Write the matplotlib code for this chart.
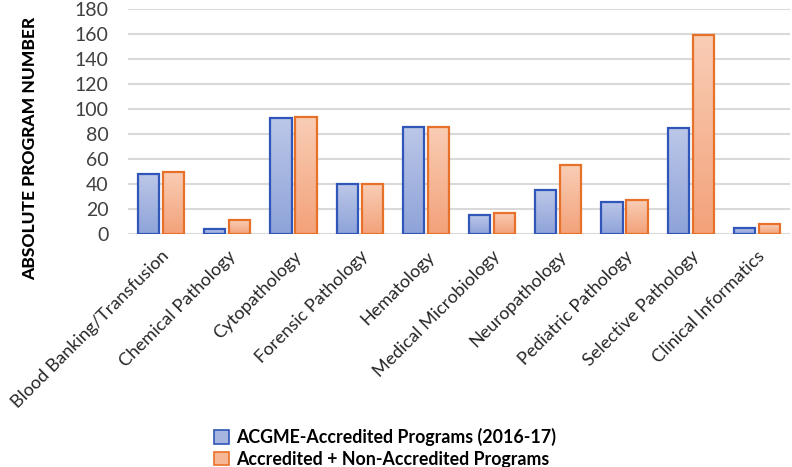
import numpy as np
import matplotlib
matplotlib.use("Agg")
import matplotlib.pyplot as plt
from matplotlib.colors import LinearSegmentedColormap
from matplotlib.patches import Patch

plt.rcParams['font.family'] = ['Lato', 'DejaVu Sans']

categories = ["Blood Banking/Transfusion", "Chemical Pathology", "Cytopathology",
              "Forensic Pathology", "Hematology", "Medical Microbiology",
              "Neuropathology", "Pediatric Pathology", "Selective Pathology",
              "Clinical Informatics"]
acgme = [48, 4, 93, 40, 86, 15, 35, 26, 85, 5]
all_programs = [50, 11, 94, 40, 86, 17, 55, 27, 159, 8]
series_names = ["ACGME-Accredited Programs (2016-17)",
                "Accredited + Non-Accredited Programs"]

# gradient colours: top (light) -> bottom (darker)
blue_top, blue_bot, blue_edge = "#bcc7e8", "#8ea3d9", "#2f56b8"
orng_top, orng_bot, orng_edge = "#f9cdb5", "#f3a27a", "#e8712a"

fig = plt.figure(figsize=(7.92, 4.67), dpi=100)
ax = fig.add_axes([128/792, 1-234/467, 662/792, 225/467])

x = np.arange(len(categories))
w = 0.32
off = 0.19


def grad_bars(xs, vals, top, bot, edge):
    bars = ax.bar(xs, vals, w, facecolor="none", edgecolor=edge, linewidth=1.6, zorder=4)
    cmap = LinearSegmentedColormap.from_list("g", [bot, top])
    grad = np.linspace(0, 1, 100).reshape(-1, 1)
    for b in bars:
        x0, y0 = b.get_x(), b.get_y()
        im = ax.imshow(grad, cmap=cmap, origin="lower", aspect="auto",
                       extent=[x0, x0 + b.get_width(), y0, y0 + b.get_height()],
                       zorder=3)
        im.set_clip_path(b)
    return bars


grad_bars(x - off, acgme, blue_top, blue_bot, blue_edge)
grad_bars(x + off, all_programs, orng_top, orng_bot, orng_edge)

ax.set_xlim(-0.5, len(categories) - 0.5)
ax.set_ylim(0, 180)
ax.set_yticks(range(0, 181, 20))
ax.yaxis.grid(True, color="#d9d9d9", linewidth=1.5, zorder=0)
ax.set_axisbelow(True)
for s in ax.spines.values():
    s.set_visible(False)
ax.tick_params(axis="both", length=0, labelcolor="#404040")
ax.tick_params(axis="y", pad=14, labelsize=14)
ax.set_xticks(x)
ax.set_xticklabels(categories, rotation=45, ha="right", rotation_mode="anchor",
                   fontsize=13, color="#262626")
ax.tick_params(axis="x", pad=10)

fig.text(30/792, 1-148/467, "ABSOLUTE PROGRAM NUMBER", rotation=90,
         ha="center", va="center", fontsize=12.5, fontweight="black", color="black")

handles = [Patch(facecolor="#a5b5e0", edgecolor=blue_edge, linewidth=1.2),
           Patch(facecolor="#f6b796", edgecolor=orng_edge, linewidth=1.2)]
leg = fig.legend(handles, series_names, loc="center", bbox_to_anchor=(385/792, 1-448/467),
                 ncol=1, frameon=False, handlelength=0.8, handleheight=0.8,
                 handletextpad=0.4, labelspacing=0.25,
                 prop={"size": 12.8, "weight": "bold"})

fig.savefig("out.png", dpi=100)
